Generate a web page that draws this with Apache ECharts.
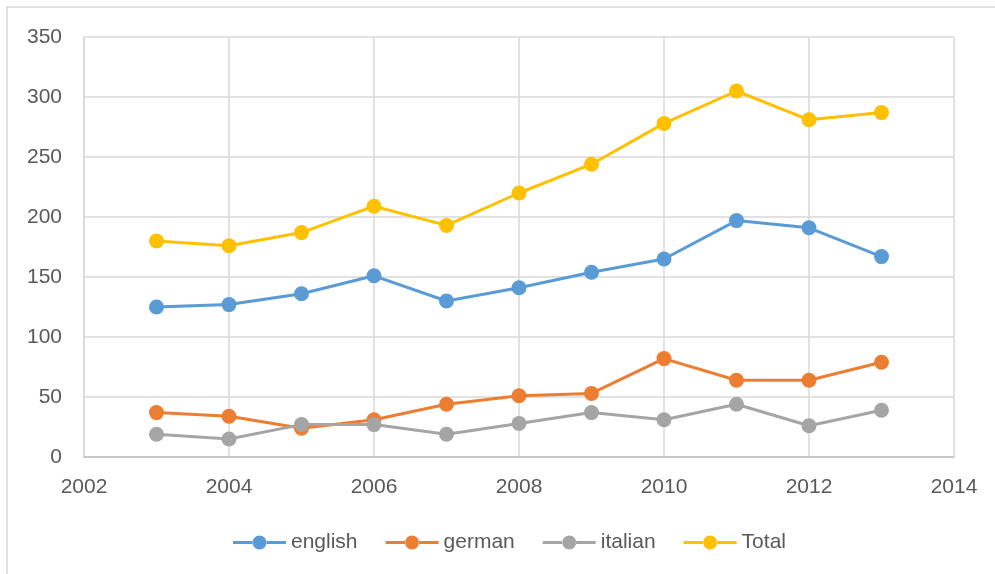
<!DOCTYPE html>
<html>
<head>
<meta charset="utf-8">
<script src="https://cdn.jsdelivr.net/npm/echarts@6/dist/echarts.min.js"></script>
<style>
html,body{margin:0;padding:0;background:#fff;}
#chart{width:995px;height:574px;}
</style>
</head>
<body>
<div id="chart"></div>
<script>
const years = [2003, 2004, 2005, 2006, 2007, 2008, 2009, 2010, 2011, 2012, 2013];
const english = [125, 127, 136, 151, 130, 141, 154, 165, 197, 191, 167];
const german = [37, 34, 24, 31, 44, 51, 53, 82, 64, 64, 79];
const italian = [19, 15, 27, 27, 19, 28, 37, 31, 44, 26, 39];
const total = [180, 176, 187, 209, 193, 220, 244, 278, 305, 281, 287];
const seriesNames = ['english', 'german', 'italian', 'Total'];
const colors = ['#5B9BD5', '#ED7D31', '#A5A5A5', '#FFC000'];

const seriesData = [english, german, italian, total];
const chart = echarts.init(document.getElementById('chart'));
const font = '"Liberation Sans", Arial, sans-serif';
const legendIcon = 'path://M0,5.5 H20 V8.5 H0 Z M33,5.5 H53 V8.5 H33 Z M19.5,7 A7,7 0 1,0 33.5,7 A7,7 0 1,0 19.5,7 Z';
chart.setOption({
  animation: false,
  graphic: [{
    type: 'rect',
    shape: {x: 7, y: 7, width: 1000, height: 580},
    style: {fill: 'none', stroke: '#d9d9d9', lineWidth: 1.5},
    silent: true
  }],
  grid: {left: 84, right: 41, top: 37, bottom: 117},
  xAxis: {
    type: 'value', min: 2002, max: 2014, interval: 2,
    axisLine: {show: true, lineStyle: {color: '#bfbfbf', width: 1.5}},
    axisTick: {show: false},
    splitLine: {show: true, lineStyle: {color: '#d9d9d9', width: 1.5}},
    axisLabel: {color: '#595959', fontSize: 21, fontFamily: font, margin: 20, formatter: v => String(v)}
  },
  yAxis: {
    type: 'value', min: 0, max: 350, interval: 50,
    axisLine: {show: true, lineStyle: {color: '#d9d9d9', width: 1.5}},
    axisTick: {show: false},
    splitLine: {show: true, lineStyle: {color: '#d9d9d9', width: 1.5}},
    axisLabel: {color: '#595959', fontSize: 21, fontFamily: font, margin: 22}
  },
  legend: {
    bottom: 16, left: 228,
    itemWidth: 53, itemHeight: 15, itemGap: 28,
    textStyle: {color: '#595959', fontSize: 21, fontFamily: font},
    data: seriesNames.map(n => ({name: n, icon: legendIcon}))
  },
  series: seriesNames.map((n, i) => ({
    name: n,
    type: 'line',
    data: years.map((y, j) => [y, seriesData[i][j]]),
    symbol: 'circle',
    symbolSize: 15,
    itemStyle: {color: colors[i]},
    lineStyle: {color: colors[i], width: 3},
    z: 2 + i
  }))
});
</script>
</body>
</html>
